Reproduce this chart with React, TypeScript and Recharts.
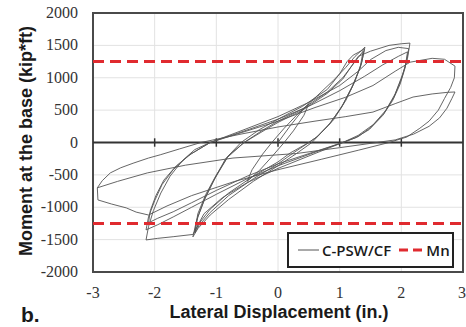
import React from "react";
import {
  LineChart,
  Line,
  XAxis,
  YAxis,
  CartesianGrid,
  ReferenceLine,
  ReferenceArea,
} from "recharts";

// ---- Tick values ----
const xTicks = [-3, -2, -1, 0, 1, 2, 3];
const yTicks = [-2000, -1500, -1000, -500, 0, 500, 1000, 1500, 2000];
const zeroLineTicks = [-2, -1, 0, 1, 2];

// ---- Nominal moment (kip*ft) ----
const mnValue = 1250;

// ---- C-PSW/CF hysteresis: [displacement (in.), moment (kip*ft)] ----
const cycle05: [number, number][] = [
  [0, 0], [0.2, 260], [0.4, 500], [0.5, 600],
  [0.42, 420], [0.25, 180], [0.1, 0], [-0.1, -220], [-0.3, -430], [-0.5, -600],
  [-0.42, -420], [-0.25, -180], [-0.1, 0], [0.1, 220], [0.3, 420], [0.5, 600],
];

const cycle14a: [number, number][] = [
  [0.7, 780], [0.9, 960], [1.1, 1160], [1.25, 1330], [1.41, 1473],
  [1.36, 1250], [1.25, 950], [1.1, 650], [0.9, 350], [0.7, 150], [0.55, 0], [0.3, -170],
  [0, -360], [-0.4, -600], [-0.8, -880], [-1.1, -1120], [-1.3, -1330], [-1.38, -1458],
  [-1.32, -1200], [-1.2, -900], [-1.05, -600], [-0.85, -250], [-0.6, 0], [-0.3, 200],
  [0, 360], [0.4, 560], [0.8, 820], [1.0, 1060], [1.12, 1250], [1.22, 1350], [1.3, 1390], [1.4, 1440],
];

const cycle14b: [number, number][] = [
  [1.35, 1200], [1.22, 900], [1.05, 580], [0.85, 300], [0.65, 100], [0.5, 0], [0.25, -160],
  [0, -330], [-0.4, -560], [-0.8, -820], [-1.1, -1080], [-1.28, -1280], [-1.35, -1400],
  [-1.3, -1150], [-1.18, -850], [-1.02, -550], [-0.82, -230], [-0.55, 0], [-0.25, 190],
  [0, 330], [0.4, 520], [0.8, 780], [1.05, 1000], [1.25, 1250], [1.38, 1410],
];

const cycle14c: [number, number][] = [
  [1.33, 1150], [1.2, 850], [1.02, 530], [0.82, 270], [0.62, 80], [0.5, 0], [0.2, -160],
  [0, -300], [-0.4, -520], [-0.8, -780], [-1.1, -1030], [-1.28, -1250], [-1.35, -1380],
  [-1.3, -1100], [-1.17, -800], [-1.0, -500], [-0.8, -200], [-0.55, 0], [-0.2, 200],
  [0, 310], [0.4, 500], [0.8, 760], [1.05, 980], [1.3, 1330],
  [1.5, 1410], [1.8, 1500], [2.0, 1525], [2.14, 1535],
];

const cycle21a: [number, number][] = [
  [2.1, 1300], [2.02, 1050], [1.9, 750], [1.75, 500], [1.55, 280], [1.3, 110], [1.05, 0],
  [0.6, -170], [0, -400], [-0.5, -620], [-0.9, -850], [-1.2, -1100], [-1.38, -1420],
  [-1.7, -1455], [-1.95, -1480], [-2.14, -1505],
  [-2.1, -1300], [-2.02, -1050], [-1.9, -780], [-1.75, -520], [-1.55, -280], [-1.35, -110],
  [-1.1, 0], [-0.6, 180], [0, 400], [0.5, 620], [1.0, 880], [1.3, 1100], [1.5, 1280],
  [1.75, 1420], [1.95, 1470], [2.12, 1450],
];

const cycle21b: [number, number][] = [
  [2.08, 1230], [2.0, 980], [1.88, 700], [1.72, 450], [1.5, 230], [1.3, 90], [1.05, 0],
  [0.6, -150], [0, -360], [-0.5, -560], [-1.0, -800], [-1.4, -1000], [-1.7, -1150],
  [-1.95, -1270], [-2.14, -1350],
  [-2.1, -1150], [-2.0, -900], [-1.88, -650], [-1.7, -420], [-1.45, -200], [-1.1, 0],
  [-0.6, 160], [0, 360], [0.5, 560], [1.0, 800], [1.4, 1020], [1.7, 1200], [1.95, 1330], [2.1, 1400],
];

const cycle21c: [number, number][] = [
  [2.06, 1150], [1.98, 900], [1.86, 650], [1.7, 420], [1.48, 200], [1.25, 70], [1.05, 0],
  [0.6, -140], [0, -330], [-0.5, -520], [-1.0, -740], [-1.4, -930], [-1.7, -1070],
  [-1.95, -1170], [-2.1, -1240],
  [-2.07, -1050], [-1.98, -820], [-1.85, -580], [-1.65, -360], [-1.4, -170], [-1.1, 0],
  [-0.6, 150], [0, 330], [0.6, 540], [1.1, 700], [1.54, 880], [1.9, 1100], [2.14, 1240],
  [2.5, 1300], [2.7, 1285], [2.87, 1180],
];

const cycle29a: [number, number][] = [
  [2.86, 1000], [2.8, 850], [2.7, 680], [2.6, 500], [2.45, 330], [2.3, 220], [2.09, 85],
  [1.8, 0], [1.3, -120], [0.7, -260], [0, -420], [-0.7, -600], [-1.4, -820], [-1.8, -980],
  [-2.1, -1120], [-2.3, -1075], [-2.46, -1010], [-2.7, -950], [-2.92, -887],
  [-2.93, -700], [-2.85, -590], [-2.72, -470], [-2.55, -390], [-2.35, -320], [-2.1, -240],
  [-1.91, -190], [-1.6, -100], [-1.25, 0], [-0.6, 130], [0, 240], [0.6, 330], [1.1, 400],
  [1.54, 470], [1.9, 600], [2.19, 702], [2.5, 750], [2.75, 775], [2.87, 780],
];

const cycle29b: [number, number][] = [
  [2.82, 680], [2.74, 530], [2.62, 380], [2.45, 250], [2.2, 130], [1.9, 40], [1.6, 0],
  [1.0, -80], [0.3, -170], [-0.73, -240], [-1.5, -350], [-2.12, -470], [-2.6, -600], [-2.93, -700],
];

const loops = [cycle05, cycle14a, cycle14b, cycle14c, cycle21a, cycle21b, cycle21c, cycle29a, cycle29b];
const data = loops.flat().map(([d, m]) => ({ d, m }));

const SERIF = "'Liberation Serif', 'Times New Roman', serif";
const SANS = "'Liberation Sans', Arial, sans-serif";

const XTick = (props: any) => {
  const { x, y, payload } = props;
  return (
    <text x={x} y={y + 26} textAnchor="middle" fontFamily={SERIF} fontSize={16} fill="#333">
      {payload.value}
    </text>
  );
};

const YTick = (props: any) => {
  const { x, y, payload } = props;
  return (
    <text x={78} y={y + 5} textAnchor="end" fontFamily={SERIF} fontSize={16} fill="#333">
      {payload.value}
    </text>
  );
};

const YTitle = () => (
  <text
    x={32}
    y={141}
    transform="rotate(-90 32 141)"
    textAnchor="middle"
    fontFamily={SANS}
    fontWeight="bold"
    fontSize={18}
    fill="#1a1a1a"
  >
    Moment at the base (kip*ft)
  </text>
);

const XTitle = () => (
  <g>
    <text x={279} y={318} textAnchor="middle" fontFamily={SANS} fontWeight="bold" fontSize={18} fill="#1a1a1a">
      Lateral Displacement (in.)
    </text>
    <text x={21} y={322} fontFamily={SANS} fontWeight="bold" fontSize={21} fill="#1a1a1a">
      b.
    </text>
  </g>
);

export default function App() {
  return (
    <div style={{ position: "absolute", left: 0, top: 0, width: 466, height: 327, background: "#fff" }}>
      <LineChart
        width={466}
        height={327}
        data={data}
        margin={{ top: 13, right: 3, left: 33, bottom: 25 }}
      >
        <CartesianGrid stroke="#e2e2e2" strokeWidth={1} />
        <XAxis
          dataKey="d"
          type="number"
          domain={[-3, 3]}
          ticks={xTicks}
          allowDataOverflow
          height={30}
          axisLine={false}
          tickLine={false}
          tickSize={0}
          tickMargin={0}
          tick={<XTick />}
          label={<XTitle />}
        />
        <YAxis
          type="number"
          domain={[-2000, 2000]}
          ticks={yTicks}
          allowDataOverflow
          width={60}
          axisLine={false}
          tickLine={false}
          tickSize={0}
          tickMargin={0}
          tick={<YTick />}
          label={<YTitle />}
        />
        <ReferenceLine y={0} stroke="#333" strokeWidth={2} />
        {zeroLineTicks.map((t) => (
          <ReferenceLine
            key={t}
            segment={[{ x: t, y: -65 }, { x: t, y: 65 }]}
            stroke="#333"
            strokeWidth={1.5}
          />
        ))}
        <Line
          dataKey="m"
          type="linear"
          dot={false}
          stroke="#555"
          strokeWidth={0.9}
          isAnimationActive={false}
        />
        <ReferenceLine y={mnValue} stroke="#e02a2f" strokeWidth={3} strokeDasharray="11 6" />
        <ReferenceLine y={-mnValue} stroke="#e02a2f" strokeWidth={3} strokeDasharray="11 6" />
        <ReferenceArea
          x1={-3}
          x2={3}
          y1={-2000}
          y2={2000}
          fill="none"
          fillOpacity={0}
          stroke="#4a4a4a"
          strokeWidth={2}
          ifOverflow="visible"
        />
      </LineChart>
      <div
        style={{
          position: "absolute",
          left: 287,
          top: 232,
          width: 163,
          height: 32,
          border: "2px solid #222",
          background: "#fff",
          display: "flex",
          alignItems: "center",
          fontFamily: "'Open Sans', Arial, sans-serif",
          fontWeight: 600,
          fontSize: 15,
          color: "#1a1a1a",
          boxSizing: "content-box",
        }}
      >
        <svg width={22} height={10} style={{ marginLeft: 9 }}>
          <line x1={0} y1={5} x2={21} y2={5} stroke="#555" strokeWidth={1} />
        </svg>
        <span style={{ marginLeft: 2 }}>C-PSW/CF</span>
        <svg width={26} height={10} style={{ marginLeft: 8 }}>
          <line x1={0} y1={5} x2={26} y2={5} stroke="#e02a2f" strokeWidth={3} strokeDasharray="9 5" />
        </svg>
        <span style={{ marginLeft: 1 }}>Mn</span>
      </div>
    </div>
  );
}
